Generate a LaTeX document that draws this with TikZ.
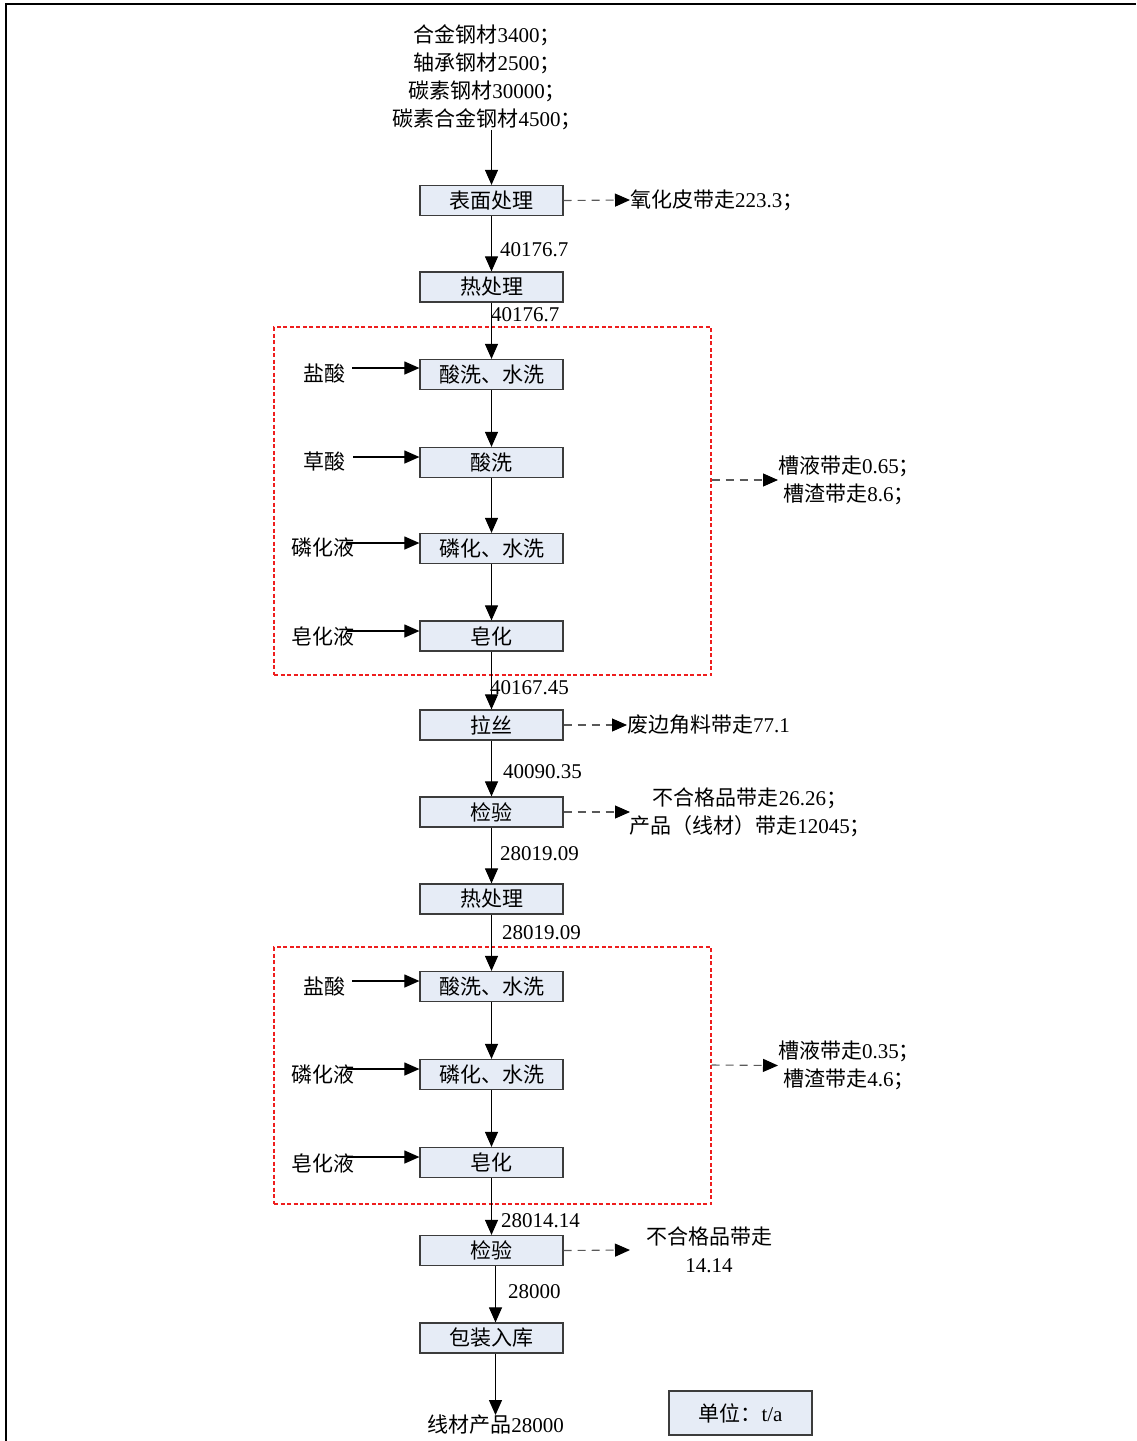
\documentclass[tikz,border=0pt]{standalone}
\usepackage{fontspec}
\setmainfont{Liberation Serif}
\newfontfamily\cjk{Noto Sans CJK SC}
\usetikzlibrary{arrows.meta}
\newcommand\zh[1]{{\cjk #1}}
\definecolor{boxfill}{RGB}{230,236,246}
\definecolor{boxline}{RGB}{60,60,60}
\definecolor{grpred}{RGB}{238,30,30}
\begin{document}
\begin{tikzpicture}[x=1pt,y=-1pt,
  font=\fontsize{21}{28}\selectfont,
  proc/.style={draw=boxline, fill=boxfill, line width=1.2pt, minimum width=143pt, minimum height=30pt, inner sep=0pt},
  flow/.style={-{Triangle[length=15pt,width=13pt]}, line width=1.1pt, draw=black},
  loss/.style={-{Triangle[length=15pt,width=13pt,color=black]}, line width=1.1pt, draw=black!65, dash pattern=on 8pt off 6pt},
  grp/.style={draw=grpred, line width=1.1pt, dash pattern=on 4pt off 2.5pt, inner sep=0pt},
  lbl/.style={inner sep=0pt, anchor=west},
  txt/.style={inner sep=0pt, align=center}]
\useasboundingbox (0,0) rectangle (1136,1441);
\draw[line width=1.5pt] (6,1441) -- (6,4) -- (1136,4);

% sources
\node[txt] (src) at (487,77) {\zh{合金钢材}3400\zh{；}\\\zh{轴承钢材}2500\zh{；}\\\zh{碳素钢材}30000\zh{；}\\\zh{碳素合金钢材}4500\zh{；}};

% main column
\node[proc] (b1) at (491.5,200.5) {\zh{表面处理}};
\node[proc] (b2) at (491.5,287) {\zh{热处理}};
\node[proc] (b3) at (491.5,374.5) {\zh{酸洗、水洗}};
\node[proc] (b4) at (491.5,462.5) {\zh{酸洗}};
\node[proc] (b5) at (491.5,548.5) {\zh{磷化、水洗}};
\node[proc] (b6) at (491.5,636) {\zh{皂化}};
\node[proc] (b7) at (491.5,725) {\zh{拉丝}};
\node[proc] (b8) at (491.5,812) {\zh{检验}};
\node[proc] (b9) at (491.5,899) {\zh{热处理}};
\node[proc] (b10) at (491.5,986.5) {\zh{酸洗、水洗}};
\node[proc] (b11) at (491.5,1074.5) {\zh{磷化、水洗}};
\node[proc] (b12) at (491.5,1162.5) {\zh{皂化}};
\node[proc] (b13) at (491.5,1250.5) {\zh{检验}};
\node[proc] (b14) at (491.5,1338) {\zh{包装入库}};
\node[txt] (out) at (495.5,1425) {\zh{线材产品}28000};
\node[proc, minimum width=143pt, minimum height=44pt] (unit) at (740.5,1413) {\zh{单位：}t/a};

% groups
\node[grp, minimum width=437pt, minimum height=348pt] (g1) at (492.5,501) {};
\node[grp, minimum width=437pt, minimum height=257pt] (g2) at (492.5,1075.5) {};

% main flows
\draw[flow] (src.south -| b1.north) -- (b1.north);
\draw[flow] (b1) -- (b2);
\draw[flow] (b2) -- (b3);
\draw[flow] (b3) -- (b4);
\draw[flow] (b4) -- (b5);
\draw[flow] (b5) -- (b6);
\draw[flow] (b6) -- (b7);
\draw[flow] (b7) -- (b8);
\draw[flow] (b8) -- (b9);
\draw[flow] (b9) -- (b10);
\draw[flow] (b10) -- (b11);
\draw[flow] (b11) -- (b12);
\draw[flow] (b12) -- (b13);
\draw[flow] ([xshift=4pt]b13.south) -- ([xshift=4pt]b14.north);
\draw[flow] ([xshift=4pt]b14.south) -- (out.north);

% flow labels
\node[lbl] (n1) at (500,250) {40176.7};
\node[lbl] (n2) at (491,315) {40176.7};
\node[lbl] (n3) at (490,688) {40167.45};
\node[lbl] (n4) at (503,772) {40090.35};
\node[lbl] (n5) at (500,854) {28019.09};
\node[lbl] (n6) at (502,933) {28019.09};
\node[lbl] (n7) at (501,1221) {28014.14};
\node[lbl] (n8) at (508,1292) {28000};

% inputs
\node[txt] (i1) at (324,374) {\zh{盐酸}};
\node[txt] (i2) at (324,462) {\zh{草酸}};
\node[txt] (i3) at (323,548) {\zh{磷化液}};
\node[txt] (i4) at (323,636) {\zh{皂化液}};
\node[txt] (i5) at (324,987) {\zh{盐酸}};
\node[txt] (i6) at (323,1075) {\zh{磷化液}};
\node[txt] (i7) at (323,1163) {\zh{皂化液}};
\coordinate (s1) at (352,368);
\coordinate (s2) at (353,457);
\coordinate (s3) at (347,543);
\coordinate (s4) at (347,631);
\coordinate (s5) at (352,981);
\coordinate (s6) at (347,1069);
\coordinate (s7) at (347,1157);
\draw[flow] (s1) -- (s1 -| b3.west);
\draw[flow] (s2) -- (s2 -| b4.west);
\draw[flow] (s3) -- (s3 -| b5.west);
\draw[flow] (s4) -- (s4 -| b6.west);
\draw[flow] (s5) -- (s5 -| b10.west);
\draw[flow] (s6) -- (s6 -| b11.west);
\draw[flow] (s7) -- (s7 -| b12.west);

% losses
\node[lbl] (l1) at (630,200) {\zh{氧化皮带走}223.3\zh{；}};
\draw[loss] (b1.east) -- (l1.west);
\node[txt, anchor=west] (l2) at (778,480) {\zh{槽液带走}0.65\zh{；}\\\zh{槽渣带走}8.6\zh{；}};
\draw[loss] ([yshift=21pt]g1.east) -- (l2.west);
\node[lbl] (l3) at (627,725) {\zh{废边角料带走}77.1};
\draw[loss] (b7.east) -- (l3.west);
\node[txt] (l4) at (750,812.5) {\zh{不合格品带走}26.26\zh{；}\\\zh{产品（线材）带走}12045\zh{；}};
\coordinate (e4) at (630,812);
\draw[loss] (b8.east) -- (e4);
\node[txt, anchor=west] (l5) at (778,1065.5) {\zh{槽液带走}0.35\zh{；}\\\zh{槽渣带走}4.6\zh{；}};
\draw[loss] ([yshift=10.5pt]g2.east) -- (l5.west);
\node[txt] (l6) at (709,1250) {\zh{不合格品带走}\\14.14};
\coordinate (e6) at (630,1250);
\draw[loss] (b13.east) -- (e6);
\end{tikzpicture}
\end{document}
